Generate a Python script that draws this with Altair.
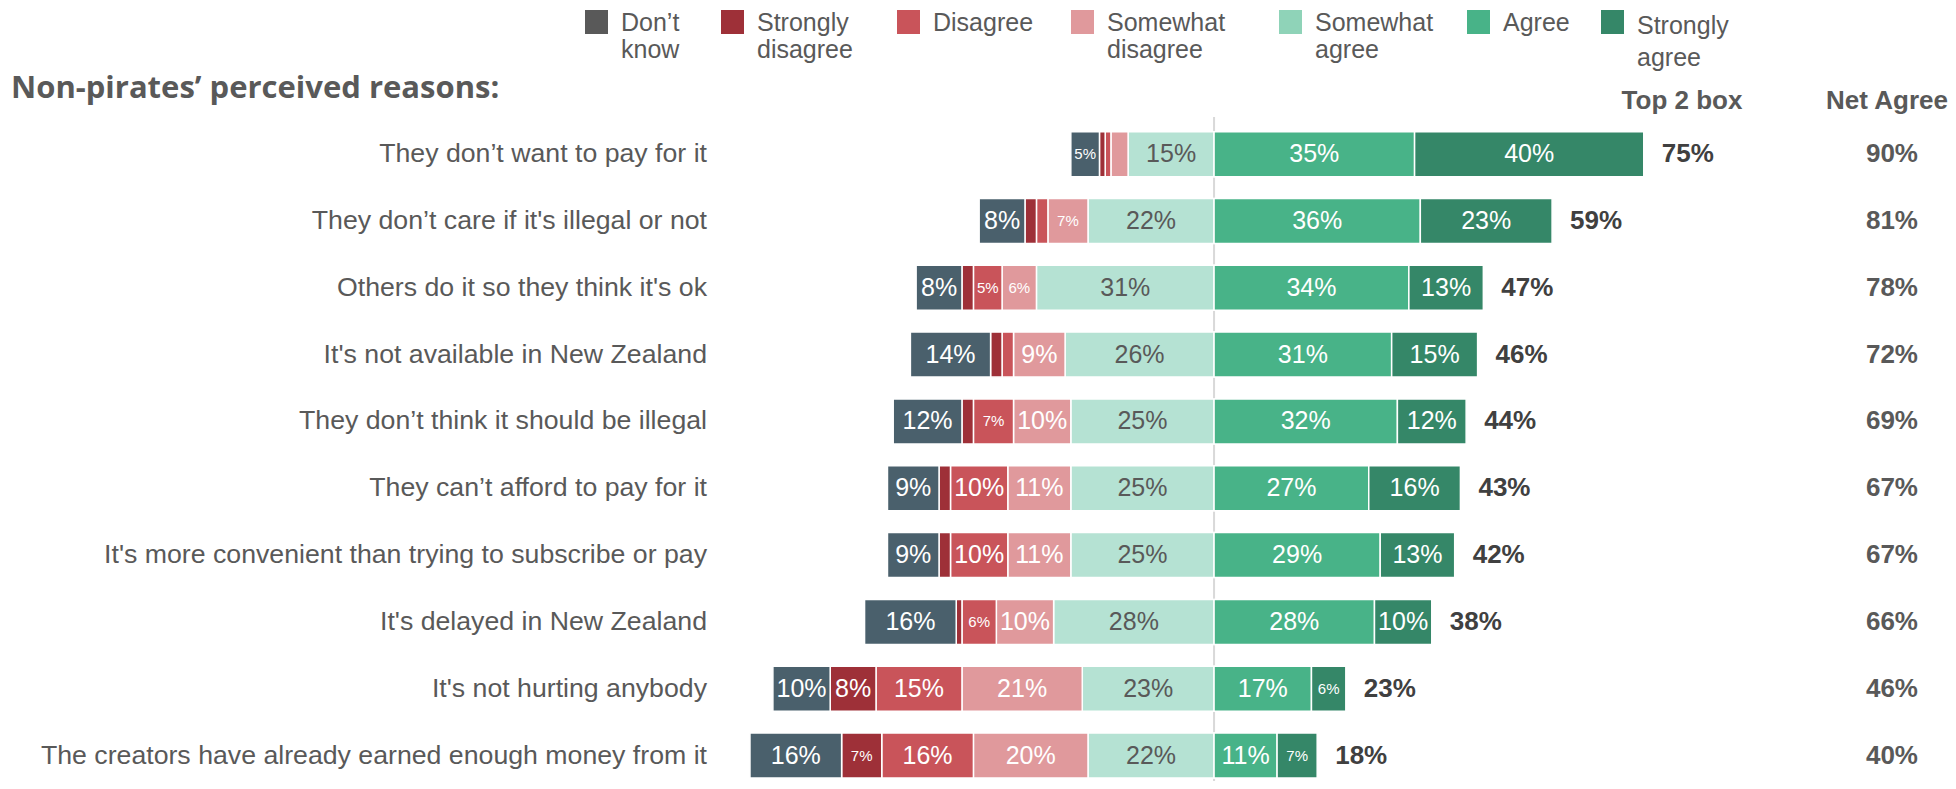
import altair as alt
import pandas as pd

# ---------------- data ----------------
categories = [
    "They don’t want to pay for it",
    "They don’t care if it's illegal or not",
    "Others do it so they think it's ok",
    "It's not available in New Zealand",
    "They don’t think it should be illegal",
    "They can’t afford to pay for it",
    "It's more convenient than trying to subscribe or pay",
    "It's delayed in New Zealand",
    "It's not hurting anybody",
    "The creators have already earned enough money from it",
]
dont_know = [5, 8, 8, 14, 12, 9, 9, 16, 10, 16]
strongly_disagree = [1, 2, 2, 2, 2, 2, 2, 1, 8, 7]
disagree = [1, 2, 5, 2, 7, 10, 10, 6, 15, 16]
somewhat_disagree = [3, 7, 6, 9, 10, 11, 11, 10, 21, 20]
somewhat_agree = [15, 22, 31, 26, 25, 25, 25, 28, 23, 22]
agree = [35, 36, 34, 31, 32, 27, 29, 28, 17, 11]
strongly_agree = [40, 23, 13, 15, 12, 16, 13, 10, 6, 7]
top2_box = [75, 59, 47, 46, 44, 43, 42, 38, 23, 18]
net_agree = [90, 81, 78, 72, 69, 67, 67, 66, 46, 40]

responses = ["Don’t know", "Strongly disagree", "Disagree", "Somewhat disagree",
             "Somewhat agree", "Agree", "Strongly agree"]
legend_labels = ["Don’t\nknow", "Strongly\ndisagree", "Disagree", "Somewhat\ndisagree",
                 "Somewhat\nagree", "Agree", "Strongly\nagree"]
bar_colors = ["#4a606c", "#9e3038", "#c9545a", "#e0999c", "#b5e2d3", "#48b388", "#358768"]
legend_colors = ["#595959", "#9e3038", "#c9545a", "#e0999c", "#8fd3b8", "#48b388", "#358768"]
title_text = "Non-pirates’ perceived reasons:"
header_top2 = "Top 2 box"
header_net = "Net Agree"

# ---------------- build table ----------------
series = dict(zip(responses, [dont_know, strongly_disagree, disagree, somewhat_disagree,
                              somewhat_agree, agree, strongly_agree]))
left_order = ["Somewhat agree", "Somewhat disagree", "Disagree", "Strongly disagree", "Don’t know"]
right_order = ["Agree", "Strongly agree"]
rows = []
for i, cat in enumerate(categories):
    pos = 0
    for r in left_order:
        v = series[r][i]
        rows.append(dict(idx=i, cat=cat, resp=r, value=v, start=-(pos + v), end=-pos))
        pos += v
    pos = 0
    for r in right_order:
        v = series[r][i]
        rows.append(dict(idx=i, cat=cat, resp=r, value=v, start=pos, end=pos + v))
        pos += v
seg = pd.DataFrame(rows)
seg["mid"] = (seg["start"] + seg["end"]) / 2
seg["label"] = seg["value"].astype(str) + "%"
seg["dark"] = seg["resp"] == "Somewhat agree"

rowdf = pd.DataFrame(dict(idx=list(range(len(categories))), cat=categories,
                          top2=top2_box, net=net_agree))
rowdf["top2_label"] = rowdf["top2"].astype(str) + "%"
rowdf["net_label"] = rowdf["net"].astype(str) + "%"

# ---------------- layout ----------------
W, H = 1940, 773
xscale = alt.Scale(domain=[-210.5, 128.1], nice=False, zero=False)
yscale = alt.Scale(domain=[-2.112, 9.306], nice=False, zero=False, reverse=True)
FONT = "Liberation Sans"
GREY = "#595959"

X = lambda f: alt.X(f, type="quantitative", scale=xscale, axis=None)
Y = lambda f: alt.Y(f, type="quantitative", scale=yscale, axis=None)

bars = alt.Chart(seg).mark_bar(size=45, stroke="white", strokeWidth=1.5).encode(
    x=X("start"), x2="end", y=Y("idx"),
    color=alt.Color("resp:N", scale=alt.Scale(domain=responses, range=bar_colors), legend=None),
)

def seg_text(flt, size, color):
    return alt.Chart(seg).transform_filter(flt).mark_text(
        font=FONT, fontSize=size, color=color, baseline="middle", align="center"
    ).encode(x=X("mid"), y=Y("idx"), text="label:N")

lab_big_w = seg_text("datum.value >= 8 && !datum.dark", 25, "white")
lab_small_w = seg_text("datum.value >= 5 && datum.value < 8 && !datum.dark", 15, "white")
lab_dark = seg_text("datum.value >= 5 && datum.dark", 25, GREY)

center = alt.Chart(pd.DataFrame({"v": [0]})).mark_rule(color="#d9d9d9", strokeWidth=2).encode(
    x=X("v"), y=alt.value(109), y2=alt.value(H)
)

row_labels = alt.Chart(rowdf).mark_text(
    font=FONT, fontSize=26.7, color=GREY, align="right", baseline="middle"
).encode(x=alt.value(699), y=Y("idx"), text="cat:N")

top2_text = alt.Chart(rowdf).mark_text(
    font=FONT, fontSize=26, fontWeight="bold", color="#404040", align="left", baseline="middle", dx=18
).encode(x=X("top2"), y=Y("idx"), text="top2_label:N")

net_text = alt.Chart(rowdf).mark_text(
    font=FONT, fontSize=26, fontWeight="bold", color=GREY, align="right", baseline="middle"
).encode(x=alt.value(1910), y=Y("idx"), text="net_label:N")

one = pd.DataFrame({"a": [0]})
title = alt.Chart(one).mark_text(
    font="Open Sans", fontSize=31, fontWeight="bold", color=GREY, align="left", baseline="alphabetic"
).encode(x=alt.value(3), y=alt.value(90), text=alt.value(title_text))

hdr1 = alt.Chart(one).mark_text(
    font=FONT, fontSize=26, fontWeight="bold", color=GREY, align="center", baseline="alphabetic"
).encode(x=alt.value(1674), y=alt.value(101), text=alt.value(header_top2))
hdr2 = alt.Chart(one).mark_text(
    font=FONT, fontSize=26, fontWeight="bold", color=GREY, align="center", baseline="alphabetic"
).encode(x=alt.value(1879), y=alt.value(101), text=alt.value(header_net))

# legend (manual)
legend_sq_x = [577, 713, 889, 1063, 1271, 1459, 1593]
legend_layers = []
for k, (lab, col) in enumerate(zip(legend_labels, legend_colors)):
    x0 = legend_sq_x[k]
    sq = alt.Chart(one).mark_rect(color=col).encode(
        x=alt.value(x0), x2=alt.value(x0 + 23), y=alt.value(2), y2=alt.value(26)
    )
    last = k == len(legend_labels) - 1
    tx = alt.Chart(one).mark_text(
        font=FONT, fontSize=25, color=GREY, align="left", baseline="alphabetic",
        lineBreak="\n", lineHeight=32 if last else 27,
    ).encode(x=alt.value(x0 + 36), y=alt.value(26 if last else 23), text=alt.value(lab))
    legend_layers += [sq, tx]

chart = alt.layer(
    center, bars, lab_big_w, lab_small_w, lab_dark, row_labels, top2_text, net_text,
    title, hdr1, hdr2, *legend_layers
).properties(
    width=W, height=H, autosize=alt.AutoSizeParams(type="none"), padding=0
).configure_view(stroke=None)

chart.save("out.html", embed_options={"renderer": "svg", "actions": False})
